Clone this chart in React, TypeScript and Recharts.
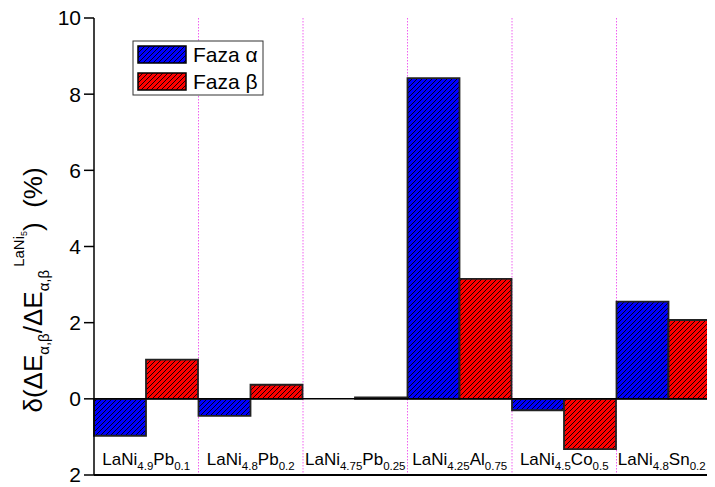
import React from "react";
import { BarChart, Bar, XAxis, YAxis, CartesianGrid, ReferenceLine } from "recharts";

// Category formula parts: [element, subscript, element, subscript]
const formulaParts: string[][] = [
  ["LaNi", "4.9", "Pb", "0.1"],
  ["LaNi", "4.8", "Pb", "0.2"],
  ["LaNi", "4.75", "Pb", "0.25"],
  ["LaNi", "4.25", "Al", "0.75"],
  ["LaNi", "4.5", "Co", "0.5"],
  ["LaNi", "4.8", "Sn", "0.2"],
];
const categories: string[] = formulaParts.map((p) => p.join(""));
const fazaAlpha: number[] = [-0.97, -0.45, 0.0, 8.42, -0.3, 2.55];
const fazaBeta: number[] = [1.03, 0.37, 0.04, 3.15, -1.32, 2.07];
const yTicks: number[] = [-2, 0, 2, 4, 6, 8, 10];

const data = categories.map((c, i) => ({ name: c, alpha: fazaAlpha[i], beta: fazaBeta[i] }));

const FONT = "'Liberation Sans', Arial, sans-serif";

const CatTick = (props: any) => {
  const { x, y, index } = props;
  const p = formulaParts[index] || ["", "", "", ""];
  // keep the last label inside the visible page area
  const shift = index === formulaParts.length - 1 ? -7 : 0;
  return (
    <text x={x + shift} y={y - 10} textAnchor="middle" fontFamily={FONT} fontSize={17} fill="#000">
      <tspan>{p[0]}</tspan>
      <tspan dy={5} fontSize={11.5}>{p[1]}</tspan>
      <tspan dy={-5} fontSize={17}>{p[2]}</tspan>
      <tspan dy={5} fontSize={11.5}>{p[3]}</tspan>
    </text>
  );
};

const boundaryGen = (args: any) => {
  const off = args.offset || {};
  const n = categories.length;
  const res: number[] = [];
  for (let i = 1; i < n; i++) res.push(off.left + (off.width * i) / n);
  return res;
};

export default function App() {
  return (
    <div style={{ width: 707, height: 479, overflow: "hidden" }}>
      <BarChart
        width={713}
        height={479}
        data={data}
        margin={{ top: 10, right: 0, left: 0, bottom: 0 }}
        barCategoryGap={0}
        barGap={0}
      >
        <defs>
          <pattern id="hatchBlue" width="5" height="5" patternUnits="userSpaceOnUse">
            <rect width="5" height="5" fill="#0000ff" />
            <path d="M0,5 L5,0 M-1,1 L1,-1 M4,6 L6,4" stroke="#000" strokeWidth="0.9" />
          </pattern>
          <pattern id="hatchRed" width="5" height="5" patternUnits="userSpaceOnUse">
            <rect width="5" height="5" fill="#ff0000" />
            <path d="M0,5 L5,0 M-1,1 L1,-1 M4,6 L6,4" stroke="#000" strokeWidth="0.9" />
          </pattern>
        </defs>
        <CartesianGrid
          horizontal={false}
          vertical
          stroke="#f060f0"
          strokeDasharray="1.5 1.5"
          verticalCoordinatesGenerator={boundaryGen}
        />
        <XAxis
          dataKey="name"
          height={12}
          tickLine={false}
          tickSize={0}
          tickMargin={0}
          interval={0}
          axisLine={{ stroke: "#000", strokeWidth: 2 }}
          tick={<CatTick />}
        />
        <YAxis
          width={86}
          domain={[-2, 10]}
          ticks={yTicks}
          interval={0}
          allowDataOverflow
          tickSize={10}
          tickMargin={3}
          tickFormatter={(v: number) => String(Math.abs(v))}
          axisLine={{ stroke: "#000", strokeWidth: 1.5 }}
          tickLine={{ stroke: "#000", strokeWidth: 1.5 }}
          tick={{ fill: "#000", fontSize: 21, fontFamily: FONT }}
        />
        <Bar dataKey="alpha" fill="url(#hatchBlue)" stroke="#222" strokeWidth={1.8} isAnimationActive={false} />
        <Bar dataKey="beta" fill="url(#hatchRed)" stroke="#222" strokeWidth={1.8} isAnimationActive={false} />
        <ReferenceLine y={0} stroke="#000" strokeWidth={1.5} />
        <text transform="rotate(-90)" x={-282} y={34} textAnchor="middle" fontFamily={FONT} fontSize={26} fill="#000">
          <tspan>δ(ΔE</tspan>
          <tspan dy={7} fontSize={15}>α,β</tspan>
          <tspan dy={-7} fontSize={26}>/ΔE</tspan>
          <tspan dy={7} fontSize={15}>α,β</tspan>
          <tspan dy={-25} dx={3} fontSize={15}>LaNi</tspan>
          <tspan dy={3} fontSize={9}>5</tspan>
          <tspan dy={15} fontSize={26}>{")\u00a0\u00a0(%)"}</tspan>
        </text>
        <g>
          <rect x={125} y={33} width={130} height={54} fill="#fff" stroke="#333" strokeWidth={1} />
          <rect x={130} y={38} width={48} height={17} fill="url(#hatchBlue)" stroke="#000" strokeWidth={1.5} />
          <rect x={130} y={65} width={48} height={17} fill="url(#hatchRed)" stroke="#000" strokeWidth={1.5} />
          <text x={185} y={54} fontFamily={FONT} fontSize={21} fill="#000">Faza α</text>
          <text x={185} y={81} fontFamily={FONT} fontSize={21} fill="#000">Faza β</text>
        </g>
      </BarChart>
    </div>
  );
}
